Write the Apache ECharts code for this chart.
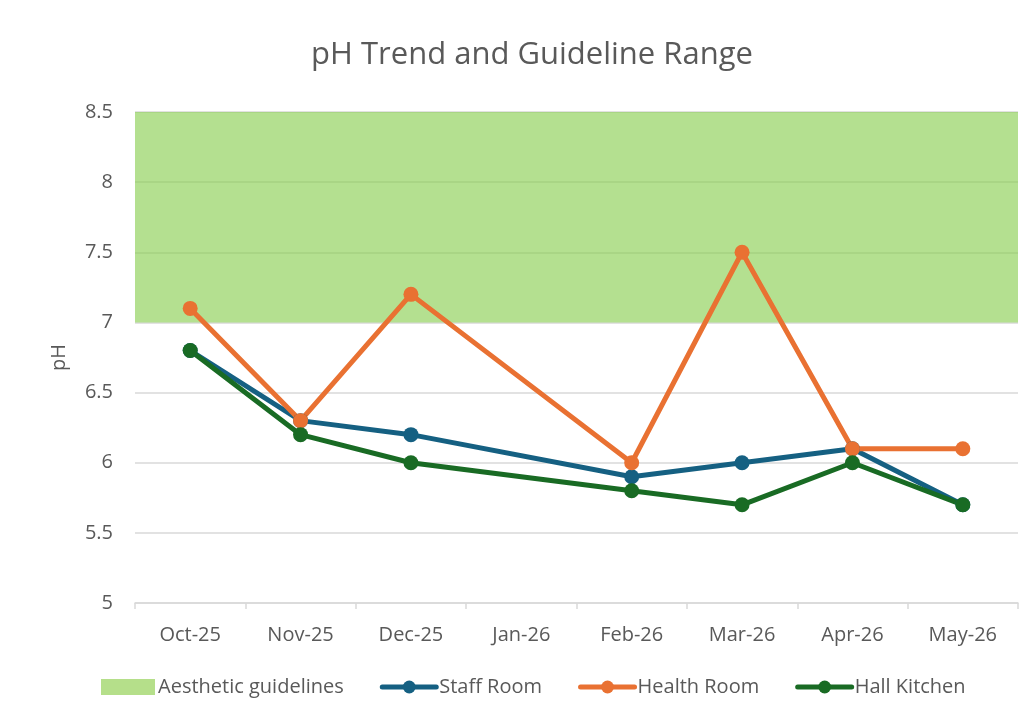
<!DOCTYPE html>
<html><head><meta charset="utf-8">
<script src="https://cdn.jsdelivr.net/npm/echarts@6/dist/echarts.min.js"></script>
<style>html,body{margin:0;padding:0;background:#fff}#c{width:1030px;height:715px}</style>
</head><body><div id="c"></div>
<script>
const categories = ['Oct-25','Nov-25','Dec-25','Jan-26','Feb-26','Mar-26','Apr-26','May-26'];
const staffRoom = [6.8, 6.3, 6.2, null, 5.9, 6.0, 6.1, 5.7];
const healthRoom = [7.1, 6.3, 7.2, null, 6.0, 7.5, 6.1, 6.1];
const hallKitchen = [6.8, 6.2, 6.0, null, 5.8, 5.7, 6.0, 5.7];
const guidelineRange = [7, 8.5];
const yTicks = [5, 5.5, 6, 6.5, 7, 7.5, 8, 8.5];

const font = '"Open Sans", "Noto Sans", sans-serif';
const chart = echarts.init(document.getElementById('c'));
function lineSeries(name, data, color) {
  return {
    name, type: 'line', data, connectNulls: true,
    symbol: 'circle', symbolSize: 15,
    lineStyle: { width: 5, color, cap: 'round', join: 'round' }, itemStyle: { color },
    emphasis: { disabled: true }, animation: false
  };
}
function legendLine(name, color) {
  return { name, lineStyle: { width: 5, color, cap: 'round' }, itemStyle: { color } };
}
chart.setOption({
  animation: false,
  title: {
    text: 'pH Trend and Guideline Range', left: 527, textAlign: 'center', top: 35,
    textStyle: { fontFamily: font, fontSize: 31, fontWeight: 'normal', color: '#595959' }
  },
  legend: {
    bottom: 13, left: 96, itemGap: 36, itemWidth: 54, itemHeight: 16,
    textStyle: { fontFamily: font, fontSize: 20, color: '#595959', padding: [0,0,0,-2] },
    data: [
      { name: 'Aesthetic guidelines', icon: 'rect', itemStyle: { color: '#B5DF8A' } },
      legendLine('Staff Room', '#156082'),
      legendLine('Health Room', '#E97132'),
      legendLine('Hall Kitchen', '#196B24')
    ]
  },
  grid: { left: 135, right: 12, top: 112, bottom: 112 },
  xAxis: {
    type: 'category', data: categories, boundaryGap: true,
    axisLine: { lineStyle: { color: '#d9d9d9', width: 1.5 } },
    axisTick: { show: true, length: 6, lineStyle: { color: '#d9d9d9', width: 1.5 } },
    axisLabel: { fontFamily: font, fontSize: 20, color: '#595959', margin: 22 }
  },
  yAxis: {
    type: 'value', min: yTicks[0], max: yTicks[yTicks.length-1], interval: 0.5,
    name: 'pH', nameLocation: 'middle', nameGap: 66, nameRotate: 90,
    nameTextStyle: { fontFamily: font, fontSize: 20, color: '#595959' },
    axisLine: { show: false }, axisTick: { show: false },
    axisLabel: { fontFamily: font, fontSize: 20, color: '#595959', margin: 22,
      formatter: v => String(v) },
    splitLine: { lineStyle: { color: '#d9d9d9', width: 1.5 } }
  },
  series: [
    {
      name: 'Aesthetic guidelines', type: 'line', data: [],
      itemStyle: { color: '#B5DF8A' },
      markArea: {
        silent: true,
        itemStyle: { color: 'rgba(140,207,85,0.65)' },
        data: [[{ yAxis: guidelineRange[0] }, { yAxis: guidelineRange[1] }]]
      }
    },
    lineSeries('Staff Room', staffRoom, '#156082'),
    lineSeries('Health Room', healthRoom, '#E97132'),
    lineSeries('Hall Kitchen', hallKitchen, '#196B24')
  ]
});
</script></body></html>
